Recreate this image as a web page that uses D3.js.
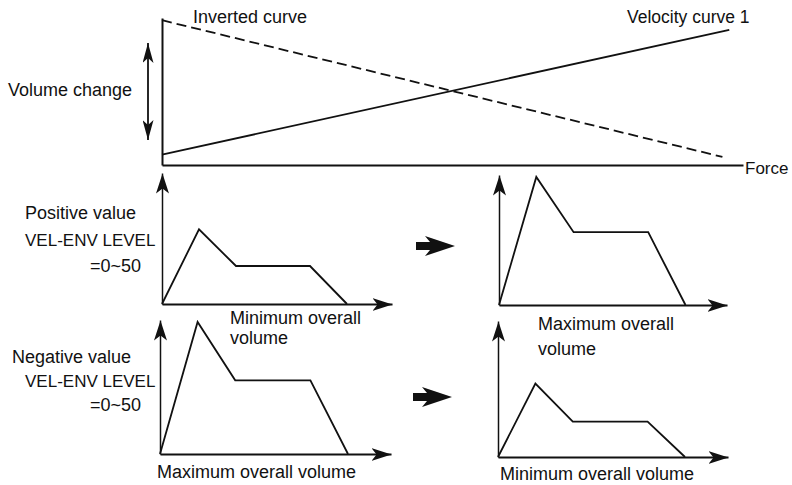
<!DOCTYPE html>
<html>
<head>
<meta charset="utf-8">
<script src="https://cdn.jsdelivr.net/npm/d3@7"></script>
<style>
  body { margin: 0; background: #fff; }
  svg { display: block; }
  text { font-family: "Liberation Sans", Arial, Helvetica, sans-serif; font-size: 18px; fill: #111; }
</style>
</head>
<body>
<svg width="792" height="485"></svg>
<script>
// top chart: volume vs force
const forceDomain = [0, 127];
const volumeDomain = [0, 100];
const velocityForce = [0, 124];
const velocityVolume = [7, 92];
const invertedForce = [0, 122.5];
const invertedVolume = [98.5, 5.5];

// envelope shape: attack, decay, sustain, release
const envTimes = [0, 1, 2, 4, 5];
const posMinLevels = [0, 5.7, 2.9, 2.9, 0];
const posMaxLevels = [0, 9.85, 5.6, 5.6, 0];
const negMaxLevels = [0, 9.85, 5.5, 5.5, 0];
const negMinLevels = [0, 5.4, 2.6, 2.6, 0];

const svg = d3.select("svg");
const ink = "#111";

let defs = svg.append("defs");
function arrowMarker(id, len, half) {
  defs.append("marker")
      .attr("id", id)
      .attr("viewBox", (-len) + " " + (-half) + " " + len + " " + (half * 2))
      .attr("refX", 0).attr("refY", 0)
      .attr("markerWidth", len).attr("markerHeight", half * 2)
      .attr("markerUnits", "userSpaceOnUse")
      .attr("orient", "auto-start-reverse")
    .append("path")
      .attr("d", "M0,0L" + (-len) + "," + (-half) + "L" + (-len * 0.75) + ",0L" + (-len) + "," + half + "Z")
      .attr("fill", ink);
}
arrowMarker("head", 20, 6.5);
arrowMarker("headSmall", 20, 5.5);

// ---- top chart ----
let x = d3.scaleLinear().domain(forceDomain).range([162, 743]);
let y = d3.scaleLinear().domain(volumeDomain).range([165, 18]);

let topG = svg.append("g");
topG.append("g")
    .attr("transform", "translate(0," + y(0) + ")")
    .call(d3.axisBottom(x).tickValues([]).tickSizeOuter(0))
  .select(".domain").attr("stroke", ink).attr("stroke-width", 2);
topG.append("g")
    .attr("transform", "translate(" + x(0) + ",0)")
    .call(d3.axisLeft(y).tickValues([]).tickSizeOuter(0))
  .select(".domain").attr("stroke", ink).attr("stroke-width", 2);

let topLine = d3.line().x(d => x(d[0])).y(d => y(d[1]));
topG.append("path")
    .datum(d3.zip(velocityForce, velocityVolume))
    .attr("fill", "none").attr("stroke", ink).attr("stroke-width", 1.8)
    .attr("d", topLine);
topG.append("path")
    .datum(d3.zip(invertedForce, invertedVolume))
    .attr("fill", "none").attr("stroke", ink).attr("stroke-width", 1.8)
    .attr("stroke-dasharray", "10,5")
    .attr("d", topLine);

// volume change double arrow
topG.append("line")
    .attr("x1", 148).attr("x2", 148).attr("y1", 43).attr("y2", 140)
    .attr("stroke", ink).attr("stroke-width", 1.8)
    .attr("marker-start", "url(#headSmall)")
    .attr("marker-end", "url(#headSmall)");

topG.append("text").attr("x", 193).attr("y", 23).text("Inverted curve");
topG.append("text").attr("x", 627).attr("y", 23).style("font-size", "17.5px").text("Velocity curve 1");
topG.append("text").attr("x", 8).attr("y", 96).text("Volume change");
topG.append("text").attr("x", 745).attr("y", 174).style("font-size", "17px").text("Force");

// ---- envelope panels ----
function envPanel(levels, x0, xEnd, base, tip, unit) {
  let ex = d3.scaleLinear().domain([0, (xEnd - x0) / unit]).range([x0, xEnd]);
  let ey = d3.scaleLinear().domain([0, 10]).range([base, tip]);
  let g = svg.append("g");
  g.append("g")
      .attr("transform", "translate(0," + base + ")")
      .call(d3.axisBottom(ex).tickValues([]).tickSizeOuter(0))
    .select(".domain")
      .attr("stroke", ink).attr("stroke-width", 1.8)
      .attr("marker-end", "url(#head)");
  g.append("g")
      .attr("transform", "translate(" + x0 + ",0)")
      .call(d3.axisLeft(ey).tickValues([]).tickSizeOuter(0))
    .select(".domain")
      .attr("stroke", ink).attr("stroke-width", 1.5)
      .attr("marker-end", "url(#head)");
  g.append("path")
      .datum(d3.zip(envTimes, levels))
      .attr("fill", "none").attr("stroke", ink).attr("stroke-width", 1.8)
      .attr("stroke-linejoin", "miter")
      .attr("d", d3.line().x(d => ex(d[0])).y(d => ey(d[1])));
}

envPanel(posMinLevels, 162, 392, 304, 173, 37);
envPanel(posMaxLevels, 499, 727, 305, 175, 37.3);
envPanel(negMaxLevels, 160, 391, 454, 320, 37.6);
envPanel(negMinLevels, 498, 728, 457, 321, 37.4);

// block arrows between panels
function blockArrow(x0, cy) {
  svg.append("path")
      .attr("d", "M" + x0 + "," + (cy - 4) + "H" + (x0 + 14) + "L" + (x0 + 9) + "," + (cy - 10) +
                 "L" + (x0 + 39) + "," + cy + "L" + (x0 + 9) + "," + (cy + 10) +
                 "L" + (x0 + 14) + "," + (cy + 4) + "H" + x0 + "Z")
      .attr("fill", ink);
}
blockArrow(416, 246);
blockArrow(413, 397);

// labels
const labels = [
  ["Positive value", 25, 219, 18],
  ["VEL-ENV LEVEL", 25, 246, 17],
  ["=0~50", 90, 272, 18],
  ["Minimum overall", 230, 324, 18],
  ["volume", 230, 344, 18],
  ["Maximum overall", 538, 330, 18],
  ["volume", 538, 355, 18],
  ["Negative value", 12, 363, 18],
  ["VEL-ENV LEVEL", 25, 387, 17],
  ["=0~50", 90, 411, 18],
  ["Maximum overall volume", 157, 478, 18],
  ["Minimum overall volume", 500, 480, 18]
];
svg.selectAll("text.lbl")
  .data(labels)
  .enter().append("text")
    .attr("class", "lbl")
    .attr("x", d => d[1]).attr("y", d => d[2])
    .style("font-size", d => d[3] + "px")
    .text(d => d[0]);
</script>
</body>
</html>
